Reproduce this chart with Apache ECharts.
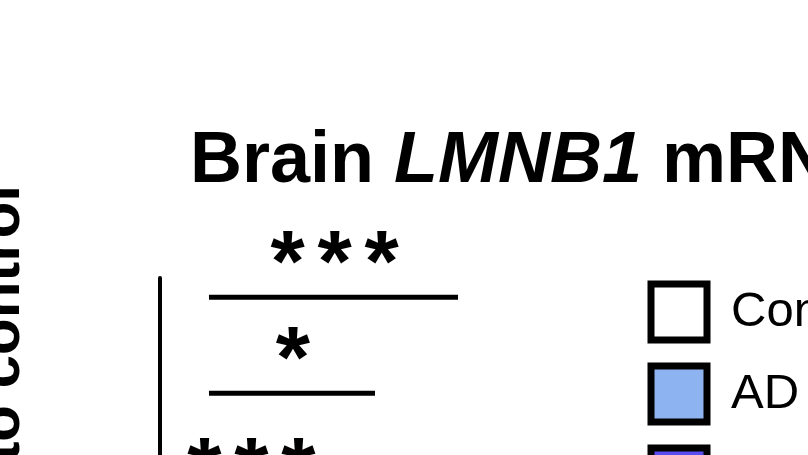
<!DOCTYPE html>
<html>
<head>
<meta charset="utf-8">
<script src="https://cdn.jsdelivr.net/npm/echarts@6/dist/echarts.min.js"></script>
<style>
html,body{margin:0;padding:0;background:#fff;overflow:hidden;}
#chart{width:808px;height:900px;}
</style>
</head>
<body>
<div id="chart"></div>
<script>
// Groups (bars lie below the visible crop; their values are not visible)
const groupNames = ['Control', 'AD', 'PSP'];
const groupColors = ['#ffffff', '#8db4f0', '#5a4cf0'];
// Significance brackets: from group index, to group index, height, label
const bracketFrom = [0, 0, 0];
const bracketTo = [3, 2, 1];
const bracketLevel = [2.42, 2.02, 1.56];
const bracketLabel = ['***', '*', '***'];

const FONT = '"Liberation Sans", Arial, Helvetica, sans-serif';
const chart = echarts.init(document.getElementById('chart'), null, {renderer: 'canvas'});

const bracketData = bracketFrom.map((f, i) => [f, bracketTo[i], bracketLevel[i], i]);

const barSeries = groupNames.map((n, i) => ({
  name: n,
  type: 'bar',
  data: [],
  itemStyle: {color: groupColors[i], borderColor: '#000', borderWidth: 7}
}));

chart.setOption({
  animation: false,
  backgroundColor: '#ffffff',
  title: {
    text: '{b|Brain }{i|LMNB1}{b| mRNA}',
    left: 190,
    top: 126,
    padding: 0,
    textStyle: {
      rich: {
        b: {fontSize: 72, fontWeight: 'bold', fontFamily: FONT, color: '#000'},
        i: {fontSize: 72, fontWeight: 'bold', fontStyle: 'italic', fontFamily: FONT, color: '#000'}
      }
    }
  },
  legend: {
    data: groupNames,
    orient: 'vertical',
    left: 647.5,
    top: 279.5,
    padding: 0,
    itemWidth: 56,
    itemHeight: 56,
    itemGap: 17,
    icon: 'rect',
    itemStyle: {borderColor: '#000', borderWidth: 7},
    textStyle: {fontSize: 49, fontFamily: FONT, color: '#000', lineHeight: 56, padding: [9, 0, 0, 19]}
  },
  grid: {left: 160, top: 278, width: 347, height: 600},
  xAxis: {type: 'value', min: -0.59, max: 3.59, show: false},
  yAxis: {
    type: 'value', min: 0, max: 2.5, interval: 0.5,
    axisLine: {show: true, onZero: false, lineStyle: {color: '#000', width: 4}},
    axisTick: {show: false},
    axisLabel: {show: false},
    splitLine: {show: false}
  },
  graphic: [{
    type: 'text',
    x: 32,
    y: 185,
    rotation: Math.PI / 2,
    style: {
      text: 'LMNB1 mRNA relative to control',
      font: 'bold 60px ' + FONT,
      fill: '#000',
      align: 'right',
      verticalAlign: 'bottom'
    }
  }],
  series: barSeries.concat([{
    type: 'custom',
    name: 'brackets',
    clip: false,
    data: bracketData,
    encode: {x: [0, 1], y: 2},
    renderItem: function (params, api) {
      const p1 = api.coord([api.value(0), api.value(2)]);
      const p2 = api.coord([api.value(1), api.value(2)]);
      const idx = api.value(3);
      const n = bracketLabel[idx].length;
      let txt = '';
      for (let k = 0; k < n; k++) txt += '{s|*}';
      return {
        type: 'group',
        children: [{
          type: 'line',
          shape: {x1: p1[0], y1: p1[1], x2: p2[0], y2: p2[1]},
          style: {stroke: '#000', lineWidth: 5}
        }, {
          type: 'text',
          x: (p1[0] + p2[0]) / 2 + 1,
          y: p1[1] - 30,
          style: {
            text: txt,
            align: 'center',
            verticalAlign: 'middle',
            rich: {s: {width: 47, align: 'center', font: 'bold 88px ' + FONT, fill: '#000'}}
          }
        }]
      };
    }
  }])
});
</script>
</body>
</html>
